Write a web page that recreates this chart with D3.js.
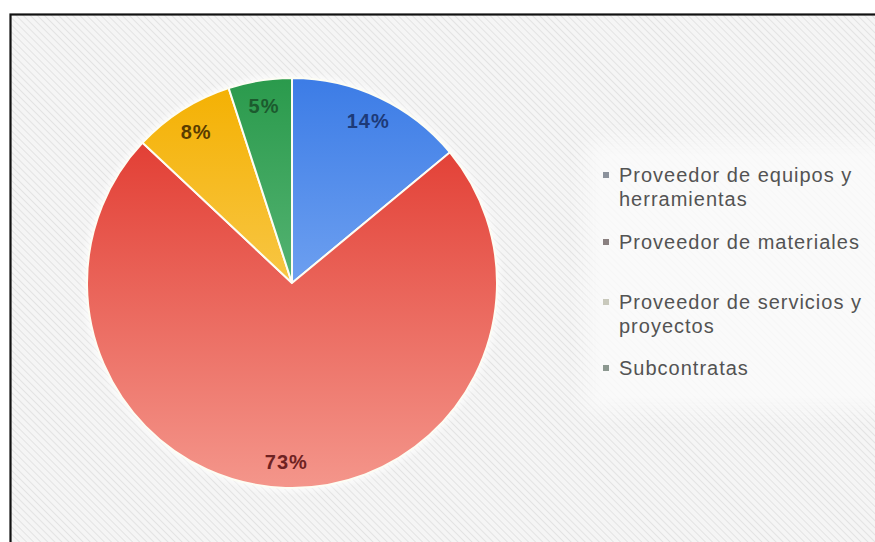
<!DOCTYPE html>
<html>
<head>
<meta charset="utf-8">
<script src="https://cdn.jsdelivr.net/npm/d3@7/dist/d3.min.js"></script>
<style>
  html, body { margin: 0; padding: 0; background: #ffffff; }
  svg { display: block; }
</style>
</head>
<body>
<svg id="chart" width="875" height="542"></svg>
<script>
// Share of suppliers by type (percent)
const categories = [
  ["Proveedor de equipos y", "herramientas"],
  ["Proveedor de materiales"],
  ["Proveedor de servicios y", "proyectos"],
  ["Subcontratas"]
];
const values = [14, 73, 8, 5];
const valueLabels = ["14%", "73%", "8%", "5%"];

// Slice palette: top / bottom of a vertical shading, label ink, legend swatch
const topColors    = ["#3c7ce6", "#df2f25", "#f4b000", "#2a9a4c"];
const bottomColors = ["#9ec3fa", "#f4968b", "#fcdc88", "#7fcc98"];
const inkColors    = ["#1d3a78", "#6e2222", "#5a3c00", "#1c5a2e"];
const swatchColors = ["#8c929c", "#8a8080", "#c9c9bc", "#8c9890"];

const width = 875, height = 542;
const cx = 292, cy = 283, R = 205;

const svg = d3.select("#chart");
const defs = svg.append("defs");

// Diagonal hatch used as the panel background
const pat = defs.append("pattern")
  .attr("id", "hatch")
  .attr("width", 5).attr("height", 5)
  .attr("patternUnits", "userSpaceOnUse")
  .attr("patternTransform", "rotate(-45)");
pat.append("rect").attr("width", 5).attr("height", 5).attr("fill", "#f5f5f5");
pat.append("line").attr("x1", 0).attr("y1", 0).attr("x2", 0).attr("y2", 5)
  .attr("stroke", "#dedede").attr("stroke-width", 1.5);

const soft = defs.append("filter").attr("id", "soft")
  .attr("x", "-20%").attr("y", "-20%").attr("width", "140%").attr("height", "140%");
soft.append("feGaussianBlur").attr("stdDeviation", 8);

const glow = defs.append("filter").attr("id", "glow")
  .attr("x", "-10%").attr("y", "-10%").attr("width", "120%").attr("height", "120%");
glow.append("feGaussianBlur").attr("stdDeviation", 2.5);

// Vertical shading per slice, in the pie group's local coordinates
values.forEach((v, i) => {
  const g = defs.append("linearGradient")
    .attr("id", "shade" + i)
    .attr("gradientUnits", "userSpaceOnUse")
    .attr("x1", 0).attr("y1", -R).attr("x2", 0).attr("y2", R);
  g.append("stop").attr("offset", "0%").attr("stop-color", topColors[i]);
  g.append("stop").attr("offset", "100%").attr("stop-color", bottomColors[i]);
});

// Panel with frame
svg.append("rect")
  .attr("x", 10).attr("y", 14)
  .attr("width", width).attr("height", height)
  .attr("fill", "url(#hatch)");

// Lighter area behind the legend
svg.append("rect")
  .attr("x", 588).attr("y", 142).attr("width", 300).attr("height", 268)
  .attr("fill", "#fbfbfb").attr("opacity", 0.85)
  .attr("filter", "url(#soft)");

svg.append("rect")
  .attr("x", 10.5).attr("y", 14.5)
  .attr("width", width).attr("height", height)
  .attr("fill", "none").attr("stroke", "#111").attr("stroke-width", 2.2);

// Pie
const pie = d3.pie().sort(null).value(d => d)(values);
const arc = d3.arc().innerRadius(0).outerRadius(R);
const labelArc = d3.arc().innerRadius(179).outerRadius(179);

const gPie = svg.append("g").attr("transform", `translate(${cx},${cy})`);

gPie.append("circle")
  .attr("r", R + 1.5)
  .attr("fill", "none").attr("stroke", "#ffffff").attr("stroke-width", 4)
  .attr("opacity", 0.8)
  .attr("filter", "url(#glow)");

gPie.selectAll("path.slice")
  .data(pie)
  .join("path")
  .attr("class", "slice")
  .attr("d", arc)
  .attr("fill", (d, i) => `url(#shade${i})`)
  .attr("stroke", "#fdfdf4")
  .attr("stroke-width", 2);

gPie.selectAll("text.pct")
  .data(pie)
  .join("text")
  .attr("class", "pct")
  .attr("transform", d => `translate(${labelArc.centroid(d)})`)
  .attr("text-anchor", "middle")
  .attr("dy", "0.36em")
  .attr("font-family", "'Liberation Sans', Arial, sans-serif")
  .attr("font-weight", "bold")
  .attr("font-size", 20)
  .attr("letter-spacing", 1)
  .attr("fill", (d, i) => inkColors[i])
  .text((d, i) => valueLabels[i]);

// Legend
const legendY = [175, 242, 302, 368];
const gLeg = svg.append("g")
  .attr("font-family", "'Liberation Sans', Arial, sans-serif")
  .attr("font-size", 20)
  .attr("letter-spacing", 1)
  .attr("fill", "#535353");

categories.forEach((lines, i) => {
  const y = legendY[i];
  gLeg.append("rect")
    .attr("x", 603).attr("y", y - 3)
    .attr("width", 6).attr("height", 6)
    .attr("fill", swatchColors[i]);
  const t = gLeg.append("text").attr("x", 619).attr("y", y);
  lines.forEach((ln, j) => {
    t.append("tspan")
      .attr("x", 619)
      .attr("dy", j === 0 ? "0.35em" : 24)
      .text(ln);
  });
});
</script>
</body>
</html>
